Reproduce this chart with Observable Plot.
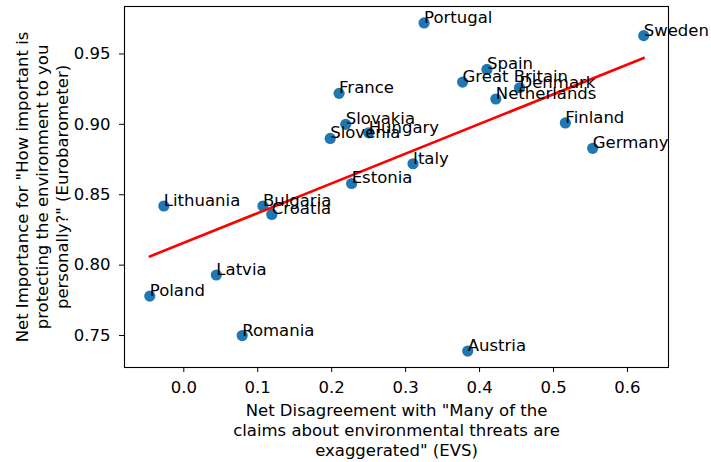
<!DOCTYPE html>
<html>
<head>
<meta charset="utf-8">
<script src="https://cdn.jsdelivr.net/npm/d3@7"></script>
<script src="https://cdn.jsdelivr.net/npm/@observablehq/plot@0.6"></script>
<style>
  html, body { margin: 0; padding: 0; background: #fff; }
  #chart svg { display: block; }
</style>
</head>
<body>
<div id="chart"></div>
<script>
// Country names
const countries = [
  "Portugal", "Sweden", "Spain", "Great Britain", "Denmark", "France",
  "Netherlands", "Finland", "Slovakia", "Hungary", "Slovenia", "Germany",
  "Italy", "Estonia", "Lithuania", "Bulgaria", "Croatia", "Latvia",
  "Poland", "Romania", "Austria"
];
// Net disagreement with "claims about environmental threats are exaggerated" (EVS)
const netDisagreement = [
  0.325, 0.622, 0.410, 0.377, 0.454, 0.210,
  0.422, 0.516, 0.219, 0.250, 0.198, 0.553,
  0.310, 0.227, -0.027, 0.107, 0.119, 0.044,
  -0.046, 0.079, 0.384
];
// Net importance of protecting the environment personally (Eurobarometer)
const netImportance = [
  0.972, 0.963, 0.939, 0.930, 0.926, 0.922,
  0.918, 0.901, 0.900, 0.894, 0.890, 0.883,
  0.872, 0.858, 0.842, 0.842, 0.836, 0.793,
  0.778, 0.750, 0.739
];
// Axis ticks
const xTicks = [0.0, 0.1, 0.2, 0.3, 0.4, 0.5, 0.6];
const yTicks = [0.75, 0.80, 0.85, 0.90, 0.95];

const xTitle = 'Net Disagreement with "Many of the\nclaims about environmental threats are\nexaggerated" (EVS)';
const yTitle = 'Net Importance for "How important is\nprotecting the environment to you\npersonally?" (Eurobarometer)';

const rows = countries.map((c, i) => ({country: c, x: netDisagreement[i], y: netImportance[i]}));

const FS = 16.5;

const chart = Plot.plot({
  width: 711,
  height: 462,
  marginLeft: 124,
  marginRight: 43,
  marginTop: 6,
  marginBottom: 95,
  style: {fontFamily: "DejaVu Sans", fontSize: FS + "px", color: "#000", background: "#fff"},
  x: {domain: [-0.0802, 0.6555]},
  y: {domain: [0.7273, 0.9837]},
  marks: [
    Plot.dot(rows, {x: "x", y: "y", r: 5.6, fill: "#1f77b4", stroke: "none"}),
    Plot.linearRegressionY(rows, {x: "x", y: "y", ci: 0, stroke: "#ff0000", strokeWidth: 2.6}),
    Plot.text(rows, {x: "x", y: "y", text: "country", textAnchor: "start", lineAnchor: "bottom", fontSize: FS, fill: "#000"}),
    Plot.axisX({ticks: xTicks, tickFormat: d3.format(".1f"), tickSize: 5, tickPadding: 9, label: null, stroke: "#000", fontSize: FS}),
    Plot.axisY({ticks: yTicks, tickFormat: d3.format(".2f"), tickSize: 5, tickPadding: 9, label: null, stroke: "#000", fontSize: FS}),
    Plot.frame({stroke: "#000", strokeWidth: 1.1}),
    Plot.text([xTitle], {frameAnchor: "bottom", textAnchor: "middle", lineAnchor: "middle", dy: 62, text: d => d, lineHeight: 1.2, fontSize: FS, fill: "#000"}),
    Plot.text([yTitle], {frameAnchor: "left", textAnchor: "middle", lineAnchor: "middle", dx: -83, rotate: -90, text: d => d, lineHeight: 1.2, fontSize: FS, fill: "#000"})
  ]
});
document.getElementById("chart").append(chart);
</script>
</body>
</html>
